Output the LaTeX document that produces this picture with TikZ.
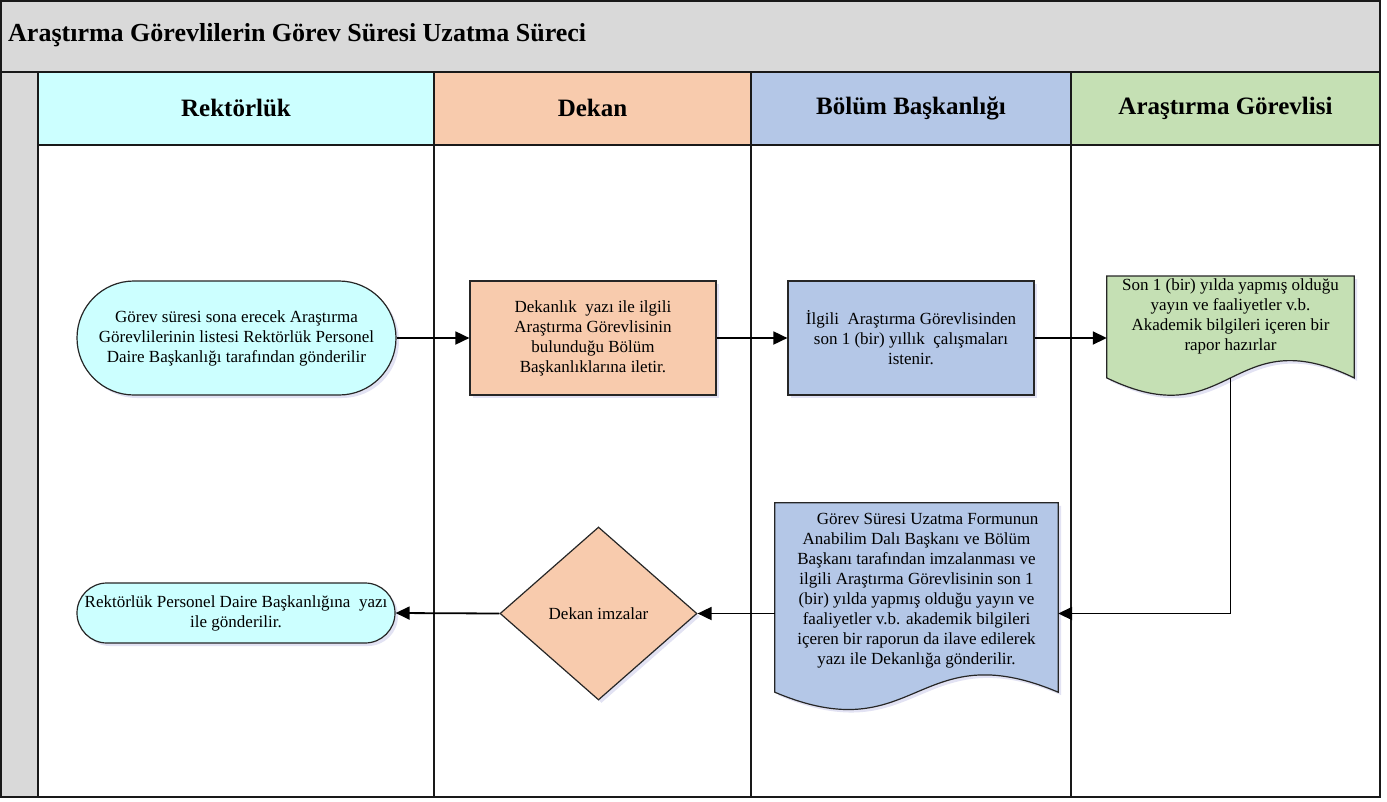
\documentclass[tikz,border=0pt]{standalone}
\usepackage{fontspec}
\setmainfont{Liberation Serif}
\usetikzlibrary{arrows.meta,shapes.geometric,shapes.misc,calc,shadows}
\pgfdeclarelayer{back}
\pgfdeclarelayer{shapes}
\pgfsetlayers{back,shapes,main}

\definecolor{bandgray}{HTML}{D9D9D9}
\definecolor{cyanfill}{HTML}{CCFFFF}
\definecolor{peach}{HTML}{F8CBAD}
\definecolor{bluefill}{HTML}{B4C7E7}
\definecolor{greenfill}{HTML}{C5E0B4}

\tikzset{
  every node/.style={font=\fontsize{17}{20}\selectfont, align=center, inner sep=2pt},
  headtext/.style={font=\fontsize{25}{30}\selectfont\bfseries},
  lane/.style={line width=1.8pt, draw=black!90},
  softshadow/.style={drop shadow={opacity=0.16, shadow xshift=3pt, shadow yshift=-3pt, fill=blue!40!gray}},
  outline/.style={draw=black!85, line width=1.2pt},
  procbox/.style={rectangle, outline, softshadow, minimum width=246pt, minimum height=114pt},
  termbox/.style={rounded rectangle, outline, softshadow, fill=cyanfill},
  decisionbox/.style={diamond, outline, softshadow, fill=peach, minimum width=197pt, minimum height=173pt},
  docbox/.style={rectangle, draw=none},
  docshape/.style={outline, softshadow},
  flow/.style={line width=1.8pt, -{Triangle[length=14pt,width=13pt]}},
}

\begin{document}
\begin{tikzpicture}[x=1pt,y=-1pt]
\useasboundingbox (0,0) rectangle (1387,801);

% swimlane frame
\begin{pgfonlayer}{back}
  \fill[bandgray] (1,1) rectangle (1380,72);
  \fill[bandgray] (1,72) rectangle (38,797);
  \fill[cyanfill] (38,72) rectangle (434,145);
  \fill[peach] (434,72) rectangle (751,145);
  \fill[bluefill] (751,72) rectangle (1071,145);
  \fill[greenfill] (1071,72) rectangle (1380,145);
  \draw[lane] (1,1) rectangle (1380,797);
  \draw[lane] (1,72) -- (1380,72);
  \draw[lane] (38,145) -- (1380,145);
  \foreach \x in {38,434,751,1071}
    \draw[lane] (\x,72) -- (\x,797);
\end{pgfonlayer}

% title and lane headings
\node[anchor=west, font=\fontsize{26}{30}\selectfont\bfseries] (title) at (6,35)
  {Araştırma Görevlilerin Görev Süresi Uzatma Süreci};
\node[headtext] (h1) at (236,108) {Rektörlük};
\node[headtext] (h2) at (592.5,108) {Dekan};
\node[headtext] (h3) at (911,108) {Bölüm Başkanlığı};
\node[headtext] (h4) at (1225.5,108) {Araştırma Görevlisi};

% upper row
\node[termbox, minimum width=323pt, minimum height=114pt] (start) at (236.5,338)
  {Görev süresi sona erecek Araştırma\\Görevlilerinin listesi Rektörlük Personel\\Daire Başkanlığı tarafından gönderilir};
\node[procbox, fill=peach] (dekan) at (593,338)
  {Dekanlık~ yazı ile ilgili\\Araştırma Görevlisinin\\bulunduğu Bölüm\\Başkanlıklarına iletir.};
\node[procbox, fill=bluefill] (bolum) at (911,338)
  {İlgili~ Araştırma Görevlisinden\\son 1 (bir) yıllık~ çalışmaları\\istenir.};
\node[docbox, minimum width=247pt, minimum height=76pt] (rapor) at (1230.5,316)
  {Son 1 (bir) yılda yapmış olduğu\\yayın ve faaliyetler v.b.\\Akademik bilgileri içeren bir\\rapor hazırlar};

% lower row
\node[docbox, minimum width=283pt, minimum height=176pt] (form) at (916.5,591)
  {\hspace*{1.3em}Görev Süresi Uzatma Formunun\\Anabilim Dalı Başkanı ve Bölüm\\Başkanı tarafından imzalanması ve\\ilgili Araştırma Görevlisinin son 1\\(bir) yılda yapmış olduğu yayın ve\\faaliyetler v.b. akademik bilgileri\\içeren bir raporun da ilave edilerek\\yazı ile Dekanlığa gönderilir.};
\node[decisionbox] (imza) at (598.5,613.5) {Dekan imzalar};
\node[termbox, minimum width=322pt, minimum height=60pt] (son) at (236,613)
  {Rektörlük Personel Daire Başkanlığına~ yazı\\ile gönderilir.};

% document outlines with wavy lower edge
\begin{pgfonlayer}{shapes}
  \filldraw[docshape, fill=greenfill]
    (rapor.north west) -- (rapor.north east) -- ($(rapor.south east)+(0,22)$)
    .. controls ($(rapor.south)+(0,-38)$) and ($(rapor.south)+(0,82)$) ..
    ($(rapor.south west)+(0,22)$) -- cycle;
  \filldraw[docshape, fill=bluefill]
    (form.north west) -- (form.north east) -- ($(form.south east)+(0,13)$)
    .. controls ($(form.south)+(0,-47)$) and ($(form.south)+(0,73)$) ..
    ($(form.south west)+(0,13)$) -- cycle;
\end{pgfonlayer}
\coordinate (raporfoot) at ($(rapor.south)+(0,22)$);

% connectors
\draw[flow] (start.east) -- (dekan.west);
\draw[flow] (dekan.east) -- (bolum.west);
\draw[flow] (bolum.east) -- (bolum.east -| rapor.west);
\draw[flow] (raporfoot) |- (form.east |- imza.east);
\draw[flow] (form.west |- imza.east) -- (imza.east);
\draw[flow] (imza.west) -- (son.east);
\end{tikzpicture}
\end{document}
